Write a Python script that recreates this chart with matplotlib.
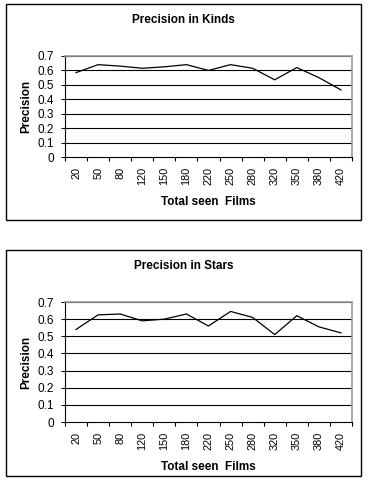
import matplotlib
matplotlib.use("Agg")
import matplotlib.pyplot as plt
from matplotlib.patches import Rectangle
import numpy as np

# data
films = ["20", "50", "80", "120", "150", "180", "220", "250", "280", "320", "350", "380", "420"]
kinds = [0.585, 0.64, 0.63, 0.615, 0.625, 0.64, 0.60, 0.64, 0.615, 0.535, 0.62, 0.55, 0.465]
stars = [0.54, 0.625, 0.63, 0.59, 0.60, 0.63, 0.56, 0.645, 0.61, 0.51, 0.62, 0.555, 0.52]
yticks = [0, 0.1, 0.2, 0.3, 0.4, 0.5, 0.6, 0.7]

plt.rcParams['font.family'] = ['Liberation Sans', 'DejaVu Sans']

W, H = 371, 498
fig = plt.figure(figsize=(W / 100, H / 100), dpi=100)


def box(x0, y0, x1, y1):
    # pixel coords, top-left origin
    return [x0 / W, 1 - y1 / H, (x1 - x0) / W, (y1 - y0) / H]


def chart(frame, area, values, title):
    fx0, fy0, fx1, fy1 = frame
    fig.patches.append(Rectangle((fx0 / W, 1 - fy1 / H), (fx1 - fx0) / W, (fy1 - fy0) / H,
                                 transform=fig.transFigure, fill=False, edgecolor='black', lw=1.0))
    ax = fig.add_axes(box(*area))
    x = np.arange(len(values))
    ax.plot(x, values, color='black', lw=0.9)
    ax.set_xlim(-0.5, len(values) - 0.5)
    ax.set_ylim(0, 0.7)
    ax.set_yticks(yticks)
    ax.set_yticklabels([("%g" % v) for v in yticks], fontsize=8.5)
    for v in yticks[1:]:
        ax.axhline(v, color='black', lw=0.8, zorder=0)
    ax.set_xticks(x)
    ax.set_xticklabels(films, rotation=90, fontsize=7.8)
    ax.tick_params(axis='x', which='major', length=0, pad=7)
    ax.set_xticks(np.arange(-0.5, len(values), 1), minor=True)
    ax.tick_params(axis='x', which='minor', length=3, direction='out', width=0.8)
    ax.tick_params(axis='y', length=3, width=0.8, pad=5)
    for s in ['top', 'right']:
        ax.spines[s].set_color('#999999')
        ax.spines[s].set_linewidth(1.2)
    for s in ['left', 'bottom']:
        ax.spines[s].set_linewidth(0.8)
    ax.set_xlabel("Total seen  Films", fontsize=8.5, fontweight='bold', labelpad=8)
    ax.set_ylabel("Precision", fontsize=8.5, fontweight='bold', labelpad=4)
    fig.text((fx0 + fx1) / 2 / W, 1 - (fy0 + 16) / H, title, ha='center', va='center',
             fontsize=8.5, fontweight='bold')


chart((6, 4, 361, 220), (65, 56, 352, 157), kinds, "Precision in Kinds")
chart((6, 250, 361, 476), (65, 302, 352, 422), stars, "Precision in Stars")

fig.savefig("out.png", dpi=100)
